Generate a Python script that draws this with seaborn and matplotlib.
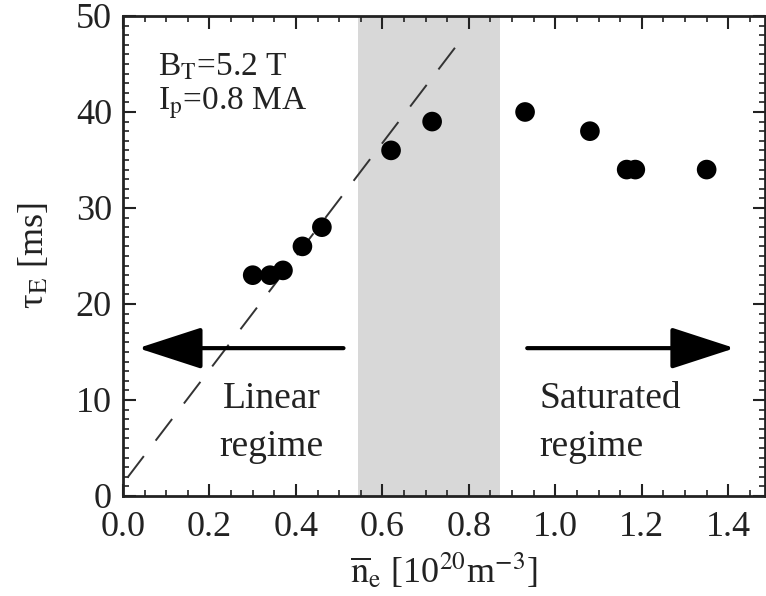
import matplotlib
matplotlib.use("Agg")
import matplotlib.pyplot as plt
import seaborn as sns
import pandas as pd
from matplotlib.ticker import MultipleLocator
from matplotlib.patches import FancyArrowPatch

# ---- data ----
density = [0.30, 0.34, 0.37, 0.415, 0.46, 0.62, 0.715, 0.93, 1.08, 1.165, 1.185, 1.35]
tau_e = [23.0, 23.0, 23.5, 26.0, 28.0, 36.0, 39.0, 40.0, 38.0, 34.0, 34.0, 34.0]
fit_x = [0.01, 0.79]
fit_y = [1.9, 48.0]
shade_range = [0.543, 0.872]
left_arrow = [0.51, 0.035, 15.4]   # x_from, x_to, y
right_arrow = [0.935, 1.415, 15.4]
xlim = [0.0, 1.485]
ylim = [0.0, 50.0]

sns.set_theme(style="ticks")
plt.rcParams["font.family"] = ["Liberation Serif", "DejaVu Serif"]
plt.rcParams["mathtext.fontset"] = "stix"

TXT = "#222222"
fig = plt.figure(figsize=(7.66, 5.96), dpi=100)
ax = fig.add_axes([0.1606, 0.1678, 0.8381, 0.8054])

df = pd.DataFrame({"n": density, "tau": tau_e})
ax.axvspan(shade_range[0], shade_range[1], color="#d8d8d8", lw=0, zorder=0)
ax.plot(fit_x, fit_y, color="#333333", lw=1.4, dashes=(14, 10), zorder=1)
sns.scatterplot(data=df, x="n", y="tau", ax=ax, s=200, color="black",
                edgecolor="none", zorder=3, legend=False)

for xf, xt, yy in (left_arrow, right_arrow):
    arr = FancyArrowPatch((xf, yy), (xt, yy),
                          arrowstyle="-|>,head_length=40,head_width=13",
                          mutation_scale=1, lw=3, color="black", zorder=4,
                          shrinkA=0, shrinkB=0)
    ax.add_patch(arr)

ax.text(0.344, 7.6, "Linear\nregime", ha="center", va="center",
        fontsize=27, color=TXT, linespacing=1.5)
ax.text(0.963, 7.6, "Saturated\nregime", ha="left", va="center",
        fontsize=27, color=TXT, linespacing=1.5)
ax.text(0.08, 44.7, r"B$_\mathrm{T}$=5.2 T", fontsize=24, color=TXT,
        ha="left", va="center")
ax.text(0.08, 40.9, r"I$_\mathrm{p}$=0.8 MA", fontsize=24, color=TXT,
        ha="left", va="center")

ax.set_xlim(*xlim)
ax.set_ylim(*ylim)
ax.xaxis.set_major_locator(MultipleLocator(0.2))
ax.xaxis.set_minor_locator(MultipleLocator(0.05))
ax.yaxis.set_major_locator(MultipleLocator(10))
ax.yaxis.set_minor_locator(MultipleLocator(1))
ax.xaxis.set_major_formatter(plt.FuncFormatter(lambda v, p: f"{v:.1f}"))
ax.tick_params(which="both", direction="in", top=True, right=True,
               colors=TXT, labelsize=26)
ax.tick_params(which="major", length=9, width=1.5)
ax.tick_params(which="minor", length=4, width=1.2)
ax.tick_params(axis="x", which="major", pad=11)
ax.tick_params(axis="y", which="major", pad=8)
for sp in ax.spines.values():
    sp.set_linewidth(2)
    sp.set_color(TXT)

ax.set_xlabel(r"$\overline{\mathrm{n}}_\mathrm{e}$ [10$^{20}$m$^{-3}$]",
              fontsize=26, color=TXT, labelpad=5)
ax.set_ylabel("τ$_\\mathrm{E}$ [ms]", fontsize=26, color=TXT, labelpad=18)

fig.savefig("out.png", dpi=100)
